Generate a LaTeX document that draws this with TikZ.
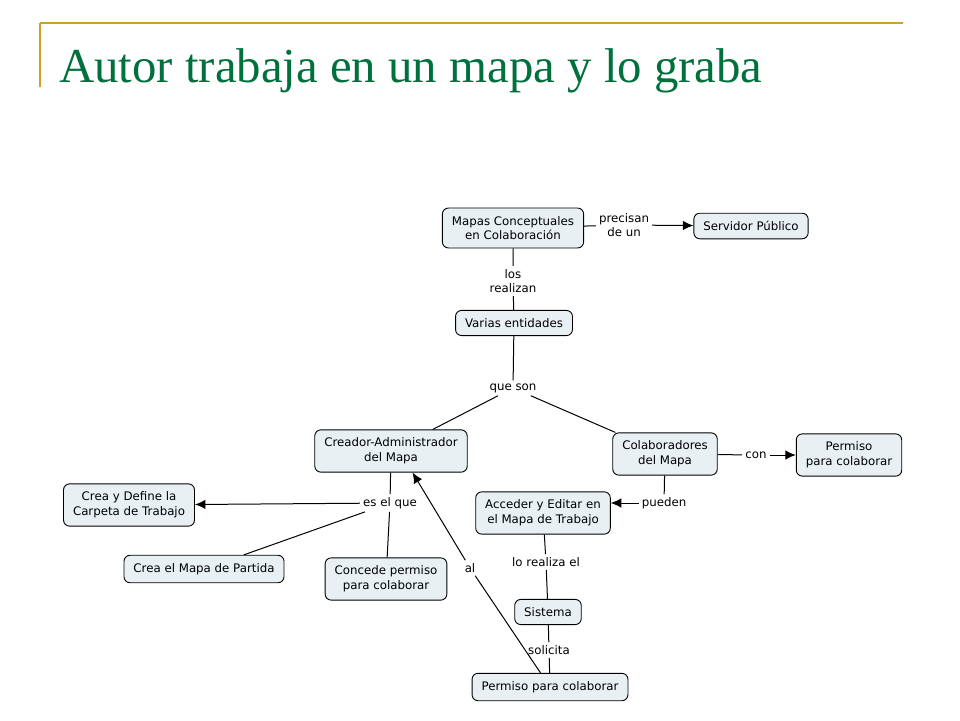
\documentclass[tikz,border=0pt]{standalone}
\usepackage{fontspec}
\setmainfont{DejaVu Sans}
\newfontfamily\titlefont{Liberation Serif}
\usetikzlibrary{arrows.meta}
\definecolor{boxfill}{HTML}{E8F0F3}
\definecolor{titlegreen}{HTML}{00703C}
\definecolor{rulegold}{HTML}{D0A020}
\begin{document}
\begin{tikzpicture}[x=1pt,y=-1pt,
  concept/.style={draw,line width=0.9pt,rounded corners=6pt,fill=boxfill,align=center,
    inner xsep=9.5pt,inner ysep=8pt,font=\fontsize{11.8}{14.8}\selectfont},
  link/.style={inner sep=3pt,align=center,font=\fontsize{11.8}{14.8}\selectfont},
  tip/.style={-{Latex[length=10.5pt,width=9.5pt]}}]
\useasboundingbox (0,0) rectangle (960,720);
\draw[rulegold,line width=2pt](40,23)--(903,23);
\draw[rulegold,line width=1.5pt](40,23)--(40,87);
\node[anchor=base west,inner sep=0pt,text=titlegreen,font=\titlefont\fontsize{48.8}{48.8}\selectfont](title)at(59,82){Autor trabaja en un mapa y lo graba};
% conceptos
\node[concept](mapas)at(513,228){Mapas Conceptuales\\en Colaboración};
\node[concept](servidor)at(751,226){Servidor Público};
\node[concept](varias)at(514,323){Varias entidades};
\node[concept](creador)at(391,451){Creador-Administrador\\del Mapa};
\node[concept](colab)at(665,454){Colaboradores\\del Mapa};
\node[concept](permright)at(849,455){Permiso\\para colaborar};
\node[concept](acceder)at(543,513){Acceder y Editar en\\el Mapa de Trabajo};
\node[concept](carpeta)at(129,505){Crea y Define la\\Carpeta de Trabajo};
\node[concept](partida)at(204,569){Crea el Mapa de Partida};
\node[concept](concede)at(386,579){Concede permiso\\para colaborar};
\node[concept](sistema)at(548,612){Sistema};
\node[concept](permbot)at(550,687){Permiso para colaborar};
% frases de enlace
\node[link](precisan)at(624,225){precisan\\de un};
\node[link](realizan)at(513,281){los\\realizan};
\node[link](queson)at(513,388){que son};
\node[link](con)at(756,455){con};
\node[link](pueden)at(664,503){pueden};
\node[link](esque)at(390,503){es el que};
\node[link](al)at(470,568){al};
\node[link](lorealiza)at(546,562){lo realiza el};
\node[link](solicita)at(549,650){solicita};
% conexiones
\begin{scope}[line width=1pt]
\draw(mapas)--(precisan);
\draw[tip](precisan)--(servidor);
\draw(mapas)--(realizan)--(varias);
\draw(varias)--(queson);
\draw(queson)--(creador);
\draw(queson)--(colab);
\draw(colab)--(con);
\draw[tip](con)--(permright);
\draw(colab)--(pueden);
\draw[tip](pueden.west)--(pueden.west-|acceder.east);
\draw(creador)--(esque);
\draw[tip](esque)--(carpeta);
\draw(esque)--(partida);
\draw(esque)--(concede);
\draw(acceder)--(lorealiza)--(sistema);
\draw(sistema)--(solicita)--(permbot);
\draw(permbot)--(al);
\draw[tip](al)--(creador.-45);
\end{scope}
\end{tikzpicture}
\end{document}
